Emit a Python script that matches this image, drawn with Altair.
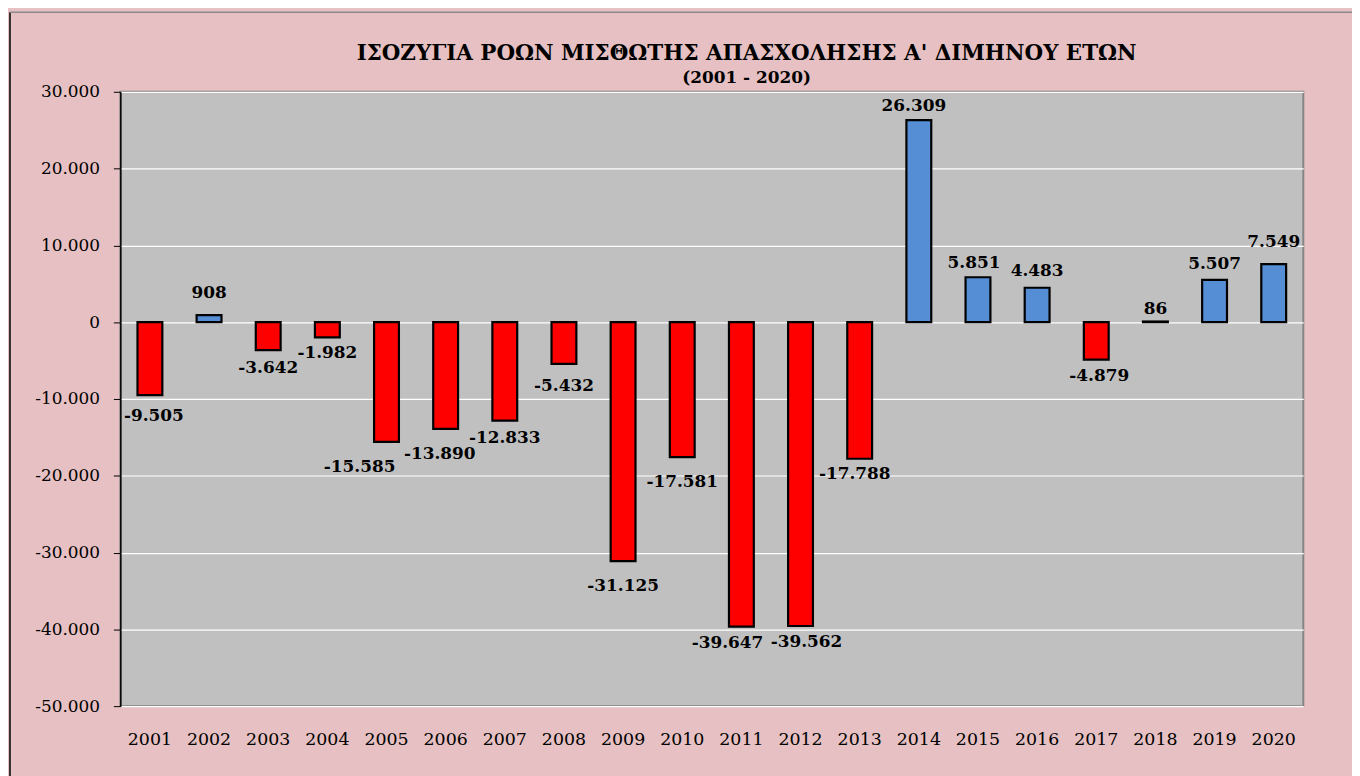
import altair as alt
import pandas as pd

years = [str(y) for y in range(2001, 2021)]
values = [-9505, 908, -3642, -1982, -15585, -13890, -12833, -5432, -31125, -17581,
          -39647, -39562, -17788, 26309, 5851, 4483, -4879, 86, 5507, 7549]
# value-label placement as in the original: horizontal nudge and distance from bar end (px)
label_nudge_x = [4, 0, 0, 0, -27, -6, 0, 0, 0, 0, -14, 6, -5, -5, -4, 0, 3, 0, 0, 0]
label_gap = [21, 22, 18, 16, 25, 25, 17, 22, 25, 25, 17, 16, 15, 14, 14, 17, 16, 13, 16, 22]

Y_MIN, Y_MAX, PLOT_H = -50000, 30000, 618

df = pd.DataFrame({
    "year": years,
    "value": values,
    "label": [f"{v:,}".replace(",", ".") for v in values],
    "sign": ["pos" if v >= 0 else "neg" for v in values],
    "nudge": label_nudge_x,
    "gap": label_gap,
})

SERIF = "DejaVu Serif"

x_enc = alt.X("year:N", sort=years,
              scale=alt.Scale(paddingInner=0.58, paddingOuter=0.29),
              axis=alt.Axis(title=None, labelAngle=0, ticks=False, domain=False,
                            labelFont=SERIF, labelFontSize=17.5, labelColor="black",
                            labelPadding=25, grid=False))
y_scale = alt.Scale(domain=[Y_MIN, Y_MAX], nice=False, zero=False)
y_axis = alt.Axis(title=None, values=list(range(Y_MIN, Y_MAX + 1, 10000)),
                  labelExpr="replace(replace(format(datum.value, ','), ',', '.'), '\u2212', '-')",
                  labelFont=SERIF, labelFontSize=17, labelColor="black",
                  tickColor="black", tickSize=7, labelPadding=14,
                  domainColor="black", domainWidth=1.5,
                  grid=True, gridColor="white", gridWidth=1.2, gridOpacity=1)

base = alt.Chart(df).transform_calculate(
    nx="datum.nudge + 12.5",
    ly=f"datum.value + (datum.value < 0 ? -1 : 1) * datum.gap * {(Y_MAX - Y_MIN) / PLOT_H}",
)

bars = base.mark_bar(stroke="black", strokeWidth=2.2).encode(
    x=x_enc,
    y=alt.Y("value:Q", scale=y_scale, axis=y_axis),
    y2=alt.datum(0),
    color=alt.Color("sign:N", scale=alt.Scale(domain=["pos", "neg"], range=["#558ed5", "#ff0000"]),
                    legend=None),
)

labels = base.mark_text(font=SERIF, fontSize=17, fontWeight="bold", color="black",
                        baseline="middle").encode(
    x=alt.X("year:N", sort=years),
    y=alt.Y("ly:Q", scale=y_scale),
    text="label:N",
    xOffset=alt.XOffset("nx:Q", scale=None),
)

one = alt.Chart(pd.DataFrame({"k": [0]}))
left_border = one.mark_rule(color="black", strokeWidth=1.5, clip=False).encode(
    x=alt.value(-111), y=alt.value(-80), y2=alt.value(700))
top_border = one.mark_rule(color="#8a8a8a", strokeWidth=1.5, clip=False).encode(
    x=alt.value(-111), x2=alt.value(1250), y=alt.value(-80))

chart = alt.layer(bars, labels, left_border, top_border).properties(
    width=1190, height=PLOT_H,
    autosize=alt.AutoSizeParams(type="none"),
    padding={"left": 113, "top": 82, "right": 49, "bottom": 68},
    background="#e6c0c2",
    title=alt.TitleParams(
        text="ΙΣΟΖΥΓΙΑ ΡΟΩΝ ΜΙΣΘΩΤΗΣ ΑΠΑΣΧΟΛΗΣΗΣ Α' ΔΙΜΗΝΟΥ ΕΤΩΝ",
        subtitle="(2001 - 2020)",
        font=SERIF, fontSize=21.5, fontWeight="bold", color="black",
        subtitleFont=SERIF, subtitleFontSize=17, subtitleFontWeight="bold",
        subtitleColor="black", subtitlePadding=5,
        anchor="middle", frame="group", dx=35, offset=-74.5,
    ),
).configure_view(
    fill="#c0c0c0", stroke="#858585", strokeWidth=2
)

chart.save("out.html", embed_options={"renderer": "svg", "actions": False})
